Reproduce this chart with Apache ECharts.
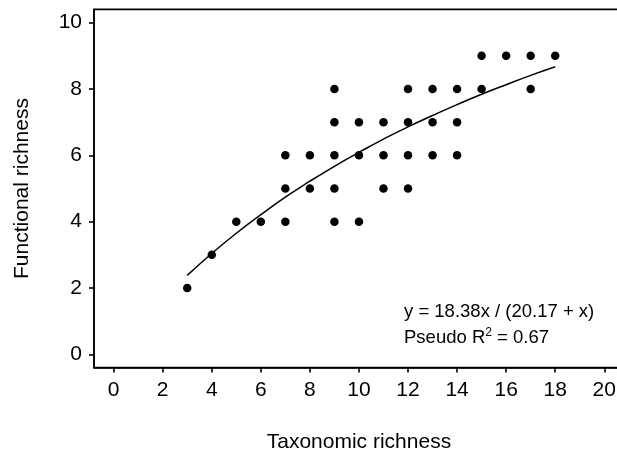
<!DOCTYPE html>
<html>
<head>
<meta charset="utf-8">
<script src="https://cdn.jsdelivr.net/npm/echarts@6/dist/echarts.min.js"></script>
<style>
html,body{margin:0;padding:0;background:#fff;}
#chart{width:617px;height:454px;}
</style>
</head>
<body>
<div id="chart"></div>
<script>
// Observed points (taxonomic richness, functional richness)
const taxRich = [3,4,5,6,7,7,7,8,8,9,9,9,9,9,10,10,10,11,11,11,12,12,12,12,13,13,13,14,14,14,15,15,16,17,17,18];
const funcRich = [2,3,4,4,4,5,6,5,6,4,5,6,7,8,4,6,7,5,6,7,5,6,7,8,6,7,8,6,7,8,8,9,9,8,9,9];
// Fitted curve, read at integer x
const fitX = [3,4,5,6,7,8,9,10,11,12,13,14,15,16,17,18];
const fitY = [2.38,3.04,3.65,4.21,4.74,5.22,5.67,6.09,6.49,6.86,7.20,7.53,7.84,8.13,8.41,8.67];
const xTicks = [0,2,4,6,8,10,12,14,16,18,20];
const yTicks = [0,2,4,6,8,10];

const font = '"Liberation Sans", Arial, sans-serif';
const chart = echarts.init(document.getElementById('chart'), null, {renderer:'canvas'});
chart.setOption({
  animation: false,
  backgroundColor: '#fff',
  grid: {left: 94, top: 9.4, width: 529.9, height: 358.2, outerBoundsMode: 'none', containLabel: false,
         show: true, borderColor: '#000', borderWidth: 1.6, backgroundColor: 'transparent'},
  xAxis: {
    type: 'value', min: -0.8, max: 20.8,
    name: 'Taxonomic richness', nameLocation: 'middle', nameGap: 64,
    nameTextStyle: {fontFamily: font, fontSize: 21, color: '#000'},
    axisLine: {show: true, onZero: false, lineStyle: {color: '#000', width: 1.6}},
    axisTick: {show: true, inside: false, length: 5, customValues: xTicks, lineStyle: {color: '#000', width: 1.6}},
    axisLabel: {customValues: xTicks, margin: 12, fontFamily: font, fontSize: 21, color: '#000'},
    splitLine: {show: false}
  },
  yAxis: {
    type: 'value', min: -0.4, max: 10.4,
    name: 'Functional richness', nameLocation: 'middle', nameGap: 61.5,
    nameTextStyle: {fontFamily: font, fontSize: 21, color: '#000'},
    axisLine: {show: true, onZero: false, lineStyle: {color: '#000', width: 1.6}},
    axisTick: {show: true, inside: false, length: 5, customValues: yTicks, lineStyle: {color: '#000', width: 1.6}},
    axisLabel: {customValues: yTicks, margin: 12, fontFamily: font, fontSize: 21, color: '#000'},
    splitLine: {show: false}
  },
  series: [
    {
      type: 'line', data: fitX.map((x, i) => [x, fitY[i]]),
      smooth: true, showSymbol: false, symbol: 'none',
      lineStyle: {color: '#000', width: 1.5}, z: 2
    },
    {
      type: 'scatter', data: taxRich.map((x, i) => [x, funcRich[i]]),
      symbol: 'circle', symbolSize: 8.5,
      itemStyle: {color: '#000', opacity: 1}, z: 3
    }
  ],
  graphic: [
    {type: 'text', left: 404, top: 302.5, style: {text: 'y = 18.38x / (20.17 + x)', font: '18.5px ' + font, fill: '#000'}},
    {type: 'text', left: 404, top: 327, style: {
      text: '{a|Pseudo R}{s|2}{a| = 0.67}',
      rich: {
        a: {fontFamily: font, fontSize: 18.5, fill: '#000', color: '#000'},
        s: {fontFamily: font, fontSize: 12, fill: '#000', color: '#000', padding: [0, 0, 10, 0]}
      }
    }}
  ]
});
</script>
</body>
</html>
